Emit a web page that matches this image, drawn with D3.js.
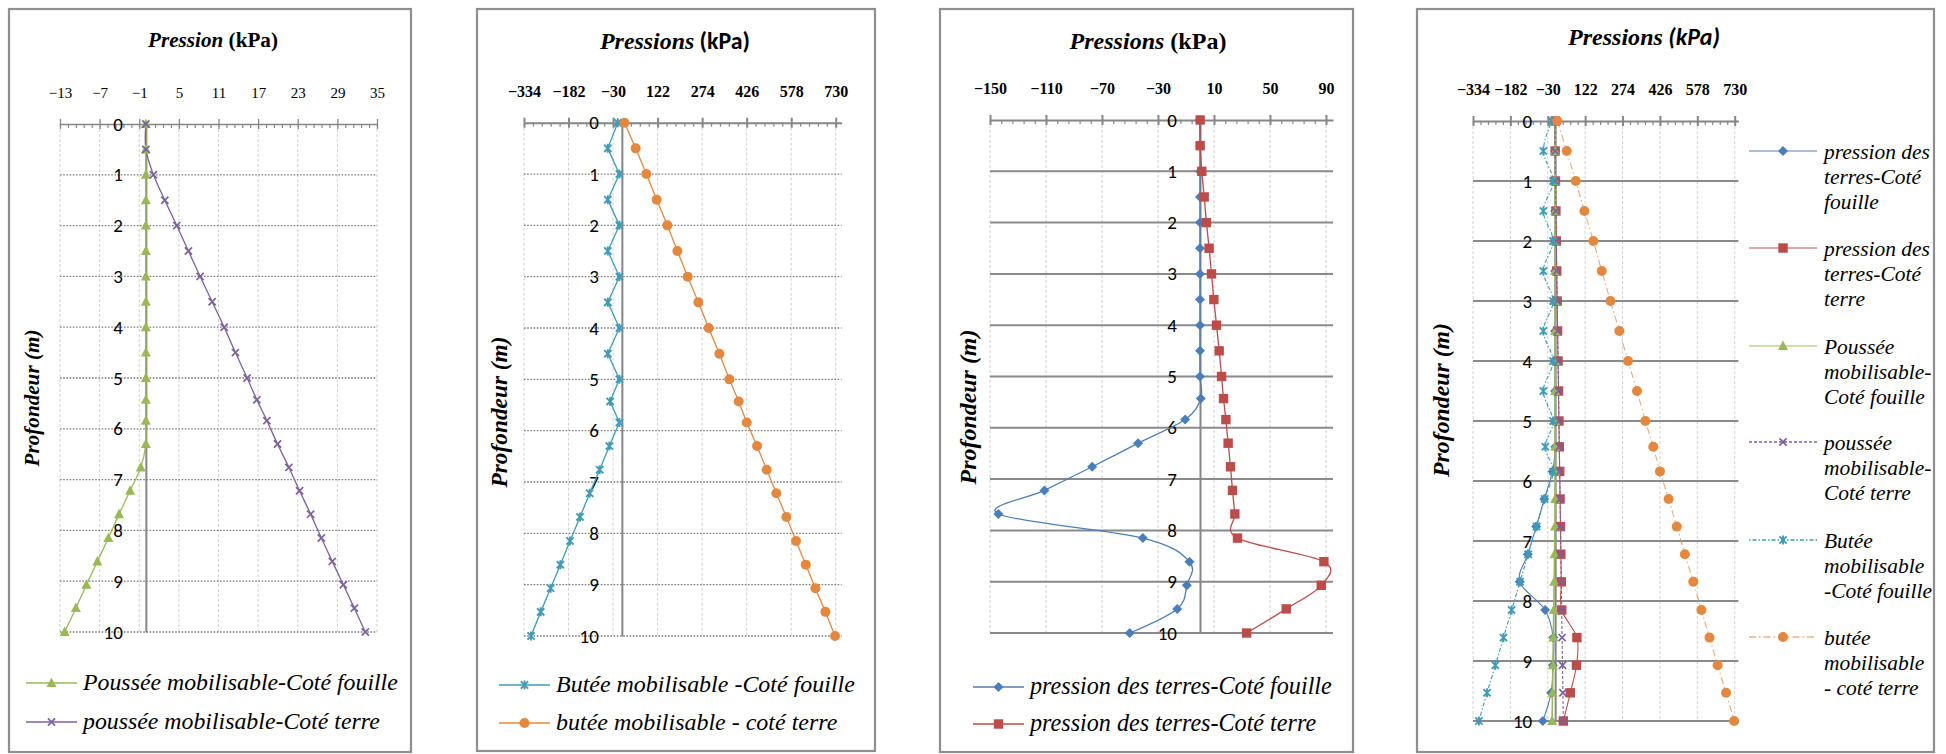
<!DOCTYPE html>
<html><head><meta charset="utf-8">
<script src="https://cdn.jsdelivr.net/npm/d3@7"></script>
<style>body{margin:0;background:#fff} svg{display:block}</style>
</head><body>
<svg id="c" width="1946" height="754"></svg>
<script>
// ---------- DATA ----------
const depths = [0,0.5,1,1.5,2,2.5,3,3.5,4,4.5,5,5.43,5.84,6.30,6.76,7.22,7.68,8.15,8.61,9.07,9.53,10];
const pressionFouille = [0,0,0,0,0,0,0,0,0,0,0,0.6,-10.6,-44.2,-77.0,-111.1,-144.0,-40.8,-7.5,-9.4,-16.3,-50.2];
const pressionTerre   = [0.1,0.1,1.3,3.0,4.6,6.5,8.2,9.9,11.8,13.7,15.4,16.8,18.5,20.1,21.8,23.2,24.9,26.8,88.5,86.6,61.6,33.3];
const pousseeFouille  = [0,0,0,0,0,0,0,0,0,0,0,0,0,0,-0.77,-2.39,-4.06,-5.67,-7.34,-9.0,-10.6,-12.3];
const pousseeTerre    = [0,0,1.15,2.87,4.68,6.45,8.22,10.04,11.86,13.57,15.34,16.81,18.33,19.94,21.66,23.28,24.95,26.57,28.23,29.9,31.57,33.23];
const buteeFouille    = [-14,-48,-8.5,-48,-8.5,-48,-8.5,-48,-8.5,-48,-8.5,-40,-8.5,-42.7,-75.7,-109.8,-142.8,-177,-210,-243,-277,-310];
const buteeTerre      = [9,47.2,83.6,118.9,155.3,189.5,224.7,261.1,296.4,332.8,367,398.9,426.2,461.4,494.4,527.4,561.6,594.6,627.6,660.6,694.7,727.7];

const seriesNames = ["pression des terres-Coté fouille","pression des terres-Coté terre",
  "Poussée mobilisable-Coté fouille","poussée mobilisable-Coté terre",
  "Butée mobilisable -Coté fouille","butée mobilisable - coté terre"];
const legend4Lines = [["pression des","terres-Coté","fouille"],["pression des","terres-Coté","terre"],
  ["Poussée","mobilisable-","Coté fouille"],["poussée","mobilisable-","Coté terre"],
  ["Butée","mobilisable","-Coté fouille"],["butée","mobilisable","- coté terre"]];

const ticksP1 = [-13,-7,-1,5,11,17,23,29,35];
const ticksP2 = [-334,-182,-30,122,274,426,578,730];
const ticksP3 = [-150,-110,-70,-30,10,50,90];
const depthTicks = [0,1,2,3,4,5,6,7,8,9,10];
const yTitle = "Profondeur (m)";

// ---------- STYLE ----------
const SERIF = "Liberation Serif";
const SANS = "Carlito";
const seriesValues = [pressionFouille, pressionTerre, pousseeFouille, pousseeTerre, buteeFouille, buteeTerre];
const colors = ["#4A7EBB","#BE4B48","#98B954","#7D60A0","#3E9CB8","#E5883E"];
const markers = ["diamond","square","triangle","x","star","circle"];
const dash4 = [null,null,null,"3,2","1.5,2,4,2","7,3,1.5,3"];

const svg = d3.select("#c");

// layout: tw = title width, ytw = y-title length, lw = legend reference width (px)
const panels = [
 {box:[9,9,411,752], xDomain:[-13,35], xRange:[60,377], yRange:[124,632], ticks:ticksP1, tickW:"normal", tickSize:15, axisW:1.3,
  grid:"dotted", title:[["Pression","italic","bold",SERIF],[" (kPa)","normal","bold",SERIF]], tx:213, ty:47, tw:130,
  yt:[32,398,137], series:[2,3], curve:true, legend:{x:26,y:683,dy:39,lw:315}},
 {box:[477,9,875,751], xDomain:[-334,750], xRange:[524,841.6], yRange:[122.7,636], ticks:ticksP2, tickW:"bold", tickSize:16, axisW:2,
  grid:"dotted", title:[["Pressions","italic","bold",SERIF],[" (kPa)","normal","bold",SANS]], tx:675, ty:49, tw:150,
  yt:[499,412,151], series:[4,5], curve:false, legend:{x:499,y:685,dy:38,lw:299}},
 {box:[940,9,1353,752], xDomain:[-150,95], xRange:[990,1333], yRange:[120,633], ticks:ticksP3, tickW:"bold", tickSize:16, axisW:2,
  grid:"solid", title:[["Pressions","italic","bold",SERIF],[" (kPa)","normal","bold",SERIF]], tx:1148, ty:49, tw:157,
  yt:[968,407,155], series:[0,1], curve:true, legend:{x:973,y:687,dy:37,lw:302}},
 {box:[1417,9,1934,752], xDomain:[-334,745], xRange:[1473,1738.4], yRange:[121,721], ticks:ticksP2, tickW:"bold", tickSize:16, axisW:2,
  grid:"solid", title:[["Pressions","italic","bold",SERIF],[" (kPa)","italic","bold",SANS]], tx:1644, ty:45, tw:152,
  yt:[1441,400,154], series:[0,1,2,3,4,5], curve:true, dashed:true,
  legend:{x:1749, ys:[151,248,346,442,540,637], lw:106, lh:25, multi:true}}
];

function fitSize(sel, target) {
  const fs = +sel.attr("font-size");
  const w = sel.node().getComputedTextLength();
  return w > 0 ? fs * target / w : fs;
}

function drawMarker(g, type, cx, cy, color) {
  if (type === "diamond") g.append("path").attr("d",`M${cx},${cy-5}L${cx+5},${cy}L${cx},${cy+5}L${cx-5},${cy}Z`).attr("fill",color);
  else if (type === "square") g.append("rect").attr("x",cx-4.7).attr("y",cy-4.7).attr("width",9.4).attr("height",9.4).attr("fill",color);
  else if (type === "triangle") g.append("path").attr("d",`M${cx},${cy-5.5}L${cx+5},${cy+4}L${cx-5},${cy+4}Z`).attr("fill",color);
  else if (type === "circle") g.append("circle").attr("cx",cx).attr("cy",cy).attr("r",5).attr("fill",color);
  else if (type === "x") g.append("path").attr("d",`M${cx-3.6},${cy-3.6}L${cx+3.6},${cy+3.6}M${cx-3.6},${cy+3.6}L${cx+3.6},${cy-3.6}`).attr("stroke",color).attr("stroke-width",1.7).attr("fill","none");
  else if (type === "star") g.append("path").attr("d",`M${cx-3.6},${cy-3.6}L${cx+3.6},${cy+3.6}M${cx-3.6},${cy+3.6}L${cx+3.6},${cy-3.6}M${cx},${cy-4.5}L${cx},${cy+4.5}`).attr("stroke",color).attr("stroke-width",1.9).attr("fill","none");
}

panels.forEach(p => {
  const g = svg.append("g");
  const x = d3.scaleLinear().domain(p.xDomain).range(p.xRange);
  const y = d3.scaleLinear().domain([0,10]).range(p.yRange);

  g.append("rect").attr("x",p.box[0]).attr("y",p.box[1]).attr("width",p.box[2]-p.box[0]).attr("height",p.box[3]-p.box[1])
    .attr("fill","#fff").attr("stroke","#8e8e8e").attr("stroke-width",2.2);

  // vertical grid
  g.append("g").selectAll("line").data(p.ticks).join("line")
    .attr("x1",d=>x(d)).attr("x2",d=>x(d)).attr("y1",y(0)).attr("y2",y(10))
    .attr("stroke","#d2d2d2").attr("stroke-width",1).attr("stroke-dasharray","3,2");
  // horizontal grid
  g.append("g").selectAll("line").data(depthTicks.filter(d=>d>0)).join("line")
    .attr("x1",p.xRange[0]).attr("x2",p.xRange[1]).attr("y1",d=>y(d)).attr("y2",d=>y(d))
    .attr("stroke", p.grid==="solid" ? "#8a8a8a" : "#7a7a7a")
    .attr("stroke-width", p.grid==="solid" ? 2 : 1.3)
    .attr("stroke-dasharray", p.grid==="solid" ? null : "1.6,1.6");

  // minor ticks
  const step = p.ticks[1]-p.ticks[0];
  const minor = [];
  for (let i=0;i<p.ticks.length-1;i++) for (let k=1;k<5;k++) minor.push(p.ticks[i]+k*step/5);
  const minG = g.append("g").attr("transform",`translate(0,${y(0)})`)
    .call(d3.axisBottom(x).tickValues(minor).tickSize(4).tickSizeOuter(0).tickFormat(""));
  minG.select(".domain").remove();
  minG.selectAll("line").attr("stroke","#868686").attr("stroke-width",1.2);
  // major ticks downward
  const majD = g.append("g").attr("transform",`translate(0,${y(0)})`)
    .call(d3.axisBottom(x).tickValues(p.ticks).tickSize(5).tickSizeOuter(0).tickFormat(""));
  majD.select(".domain").remove();
  majD.selectAll("line").attr("stroke","#868686").attr("stroke-width",p.axisW);
  // top axis with labels
  const ax = g.append("g").attr("transform",`translate(0,${y(0)})`)
    .call(d3.axisTop(x).tickValues(p.ticks).tickSize(5).tickSizeOuter(0).tickPadding(21).tickFormat(d3.format("d")));
  ax.attr("font-family",SERIF);
  ax.select(".domain").attr("stroke","#868686").attr("stroke-width",p.axisW);
  ax.selectAll("line").attr("stroke","#868686").attr("stroke-width",p.axisW);
  ax.selectAll("text").style("font-family",SERIF).attr("font-size",p.tickSize).attr("font-weight",p.tickW).attr("fill","#000");

  // vertical axis at 0
  const ay = g.append("g").attr("transform",`translate(${x(0)},0)`)
    .call(d3.axisLeft(y).tickValues(depthTicks).tickSize(0).tickSizeOuter(0).tickPadding(23).tickFormat(d3.format("d")));
  ay.attr("font-family",SANS);
  ay.select(".domain").attr("stroke","#868686").attr("stroke-width",2);
  ay.selectAll("text").style("font-family",SANS).attr("font-size",19).attr("fill","#000");

  // title
  const t = g.append("text").attr("x",p.tx).attr("y",p.ty).attr("text-anchor","middle").attr("font-size",20).attr("fill","#000");
  p.title.forEach(s => t.append("tspan").text(s[0]).attr("font-style",s[1]).attr("font-weight",s[2]).style("font-family",s[3]));
  t.attr("font-size", fitSize(t, p.tw));
  // y title
  const yt = g.append("text").attr("transform",`translate(${p.yt[0]},${p.yt[1]}) rotate(-90)`).attr("text-anchor","middle")
    .attr("dominant-baseline","central").style("font-family",SERIF).attr("font-style","italic").attr("font-weight","bold")
    .attr("font-size",20).attr("fill","#000").text(yTitle);
  yt.attr("font-size", fitSize(yt, p.yt[2]));

  // series
  p.series.forEach(si => {
    const pts = depths.map((d,i)=>({d, v: seriesValues[si][i]}));
    const line = d3.line().x(d=>x(d.v)).y(d=>y(d.d)).curve(p.curve ? d3.curveCatmullRom.alpha(0) : d3.curveLinear);
    g.append("path").attr("d",line(pts)).attr("fill","none").attr("stroke",colors[si])
      .attr("stroke-width", p.dashed ? (si===2?1.6:1.1) : 1.3)
      .attr("stroke-dasharray", p.dashed ? dash4[si] : null)
      .attr("stroke-opacity", p.dashed && si===5 ? 0.7 : 1);
  });
  p.series.forEach(si => {
    const mg = g.append("g");
    depths.forEach((d,i) => drawMarker(mg, markers[si], x(seriesValues[si][i]), y(d), colors[si]));
  });

  // legend
  const L = p.legend;
  const texts = [];
  p.series.forEach((si,k) => {
    const ly = L.multi ? L.ys[k] : L.y + k*L.dy;
    const lg = g.append("g");
    const lx0 = L.x, lx1 = L.x + (L.multi ? 68 : 51);
    lg.append("line").attr("x1",lx0).attr("x2",lx1).attr("y1",ly).attr("y2",ly).attr("stroke",colors[si])
      .attr("stroke-width",1.3).attr("stroke-dasharray", L.multi ? dash4[si] : null)
      .attr("stroke-opacity", L.multi && (si===0||si===1||si===2||si===5) ? 0.65 : 1);
    drawMarker(lg, markers[si], (lx0+lx1)/2, ly, colors[si]);
    const tx = lg.append("text").attr("x", lx1+6).attr("y", ly+7).style("font-family",SERIF)
      .attr("font-style","italic").attr("font-size",20).attr("fill","#000");
    if (L.multi) {
      legend4Lines[si].forEach((s,j)=> tx.append("tspan").attr("x",lx1+7).attr("y",ly+8+j*L.lh).text(s));
    } else tx.text(seriesNames[si]);
    texts.push(tx);
  });
  const ref = L.multi ? texts[0].select("tspan") : texts[0];
  const fs = +texts[0].attr("font-size");
  const w = ref.node().getComputedTextLength();
  const size = w > 0 ? fs * L.lw / w : fs;
  texts.forEach(tx => tx.attr("font-size", size));
});
</script>
</body></html>
